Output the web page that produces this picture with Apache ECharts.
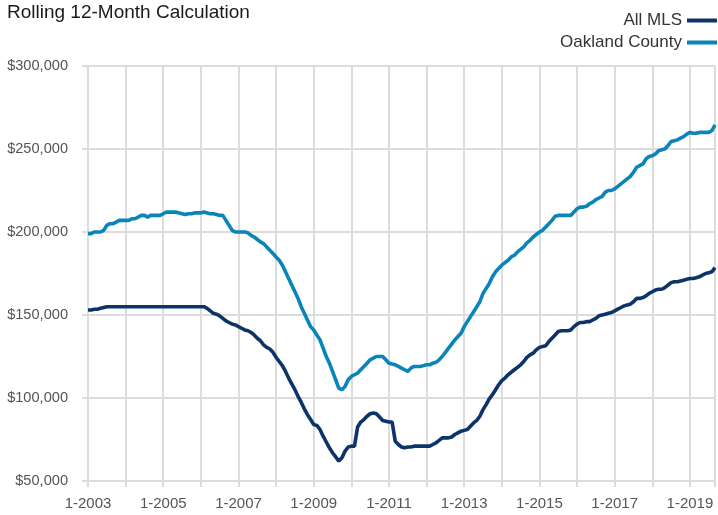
<!DOCTYPE html>
<html>
<head>
<meta charset="utf-8">
<script src="https://cdn.jsdelivr.net/npm/echarts@6/dist/echarts.min.js"></script>
<style>
html,body{margin:0;padding:0;background:#fff;}
#chart{width:718px;height:515px;}
</style>
</head>
<body>
<div id="chart"></div>
<script>
// Monthly values in thousands of dollars, 1-2003 .. 9-2019
const startYear = 2003;
const monthCount = 201;
const seriesNames = ['All MLS', 'Oakland County'];
const allMLS = [
  153, 153, 153.5, 153.5, 154, 154.5, 155, 155, 155, 155, 155, 155,
  155, 155, 155, 155, 155, 155, 155, 155, 155, 155, 155, 155,
  155, 155, 155, 155, 155, 155, 155, 155, 155, 155, 155, 155,
  155, 155, 154, 152.5, 151, 150.5, 149.5, 148, 146.5, 145.5, 144.5, 144,
  143, 142, 141, 140.5, 139.5, 138, 136, 134.5, 132, 130.5, 129.5, 127.5,
  124.5, 122, 119.5, 116, 112, 108.5, 105, 101, 97.5, 93.5, 90, 87,
  84, 83.5, 81, 77, 73.5, 70, 67, 64.5, 62, 64, 68, 70.5,
  71, 71, 82.5, 85.5, 87, 89, 90.5, 91, 90.5, 88.5, 86.5, 86,
  85.5, 85.5, 74, 72, 70.5, 70, 70.5, 70.5, 71, 71, 71, 71,
  71, 71, 72, 73, 74.5, 76, 76, 76, 76.5, 78, 79, 80,
  80.5, 81, 83, 85, 86.5, 89, 93, 96, 99.5, 102, 105, 108,
  110.5, 112, 114, 115.5, 117, 118.5, 120, 122, 124.5, 126, 127, 129,
  130.5, 131, 131.5, 134, 136, 138, 140, 140.5, 140.5, 140.5, 141, 143,
  144.5, 145.5, 145.5, 146, 146, 147, 148, 149.5, 150, 150.5, 151, 151.5,
  152.5, 153.5, 154.5, 155.5, 156, 156.5, 158, 160, 160, 160.5, 161.5, 163,
  164, 165, 165.5, 165.5, 166.5, 168, 169.5, 170, 170, 170.5, 171, 171.5,
  172, 172, 172.5, 173, 174, 175, 175.5, 176, 178.5
];
const oakland = [
  199, 199, 200, 200, 200, 201, 204, 205, 205, 206, 207, 207,
  207, 207, 208, 208, 209, 210, 210, 209, 210, 210, 210, 210,
  211, 212, 212, 212, 212, 211.5, 211, 210.5, 211, 211, 211.5, 211.5,
  211.5, 212, 211.5, 211, 211, 210.5, 210, 210, 207, 204, 201, 200,
  200, 200, 200, 199.5, 198, 197, 195.5, 194, 193, 191, 189, 187,
  185, 183, 180, 176, 172, 168, 164, 160, 155, 151, 147, 143,
  141, 138, 135, 130, 125, 121, 116, 111, 106, 105, 107, 111,
  113, 114, 115, 117, 119, 121, 123, 124, 125, 125, 125, 123,
  121, 120.5, 120, 119, 118, 117, 116, 118, 119, 119, 119, 119.5,
  120, 120, 121, 121.5, 123, 125, 127.5, 130, 132.5, 135, 137, 139,
  143, 146, 149, 152, 155, 158, 163, 166, 169, 173, 176, 178,
  180, 181.5, 183, 185, 186, 188, 189.5, 191, 193.5, 195, 197, 198.5,
  200, 201, 203, 205, 207, 209.5, 210, 210, 210, 210, 210, 212,
  214, 215, 215, 215.5, 217, 218, 219.5, 220.5, 221.5, 224, 225, 225,
  226, 227.5, 229, 230.5, 232, 233.5, 236, 239, 240, 241, 244, 245.5,
  246, 247, 249, 249.5, 250, 252, 254.5, 255, 255.5, 256.5, 257.5, 259,
  260, 259.5, 259.5, 260, 260, 260, 260, 261, 264.5
];
const yTicks = [50, 100, 150, 200, 250, 300];
const xTickLabels = ['1-2003', '1-2005', '1-2007', '1-2009', '1-2011', '1-2013', '1-2015', '1-2017', '1-2019'];

const toPoints = (arr) => arr.map((v, i) => [i, v]);

const chart = echarts.init(document.getElementById('chart'), null, {renderer: 'canvas'});
const gridColor = '#dcdcdc';
const font = 'Liberation Sans, Arial, sans-serif';
chart.setOption({
  animation: false,
  backgroundColor: '#ffffff',
  title: {
    text: 'Rolling 12-Month Calculation',
    left: 7, top: 3, padding: 0,
    textStyle: {fontFamily: font, fontSize: 19, fontWeight: 'normal', color: '#1a1a1a'}
  },
  legend: {
    orient: 'vertical',
    right: 1, top: 10.5,
    align: 'right',
    itemWidth: 30, itemHeight: 4, itemGap: 2,
    padding: 0,
    textStyle: {fontFamily: font, fontSize: 17, color: '#333333', lineHeight: 20, padding: [0, 0, 0, 0]},
    data: seriesNames.map(n => ({name: n, icon: 'rect'})),
    itemStyle: {borderWidth: 0}
  },
  grid: {left: 88, right: 1, top: 66, bottom: 34, containLabel: false},
  xAxis: {
    type: 'value',
    min: 0, max: monthCount - 1, interval: 12,
    axisLine: {show: true, lineStyle: {color: gridColor, width: 2}},
    axisTick: {show: true, length: 6, lineStyle: {color: gridColor, width: 2}},
    splitLine: {show: true, lineStyle: {color: gridColor, width: 2}},
    axisLabel: {
      margin: 15,
      formatter: (v) => (v % 24 === 0 && v < monthCount - 1) ? xTickLabels[v / 24] : '',
      fontFamily: font, fontSize: 15, color: '#555555',
      showMaxLabel: true, showMinLabel: true, hideOverlap: false
    }
  },
  yAxis: {
    type: 'value',
    min: yTicks[0], max: yTicks[yTicks.length - 1], interval: 50,
    axisLine: {show: false},
    axisTick: {show: true, length: 6, lineStyle: {color: gridColor, width: 2}},
    splitLine: {show: true, lineStyle: {color: gridColor, width: 2}},
    axisLabel: {
      margin: 20,
      formatter: (v) => '$' + v + ',000',
      fontFamily: font, fontSize: 14.6, color: '#555555'
    }
  },
  series: [
    {
      name: seriesNames[0], type: 'line', data: toPoints(allMLS), showSymbol: false, symbol: 'none',
      lineStyle: {color: '#0c3468', width: 3.6}, itemStyle: {color: '#0c3468'}, z: 3
    },
    {
      name: seriesNames[1], type: 'line', data: toPoints(oakland), showSymbol: false, symbol: 'none',
      lineStyle: {color: '#0b84ba', width: 3.6}, itemStyle: {color: '#0b84ba'}, z: 2
    }
  ]
});
</script>
</body>
</html>
